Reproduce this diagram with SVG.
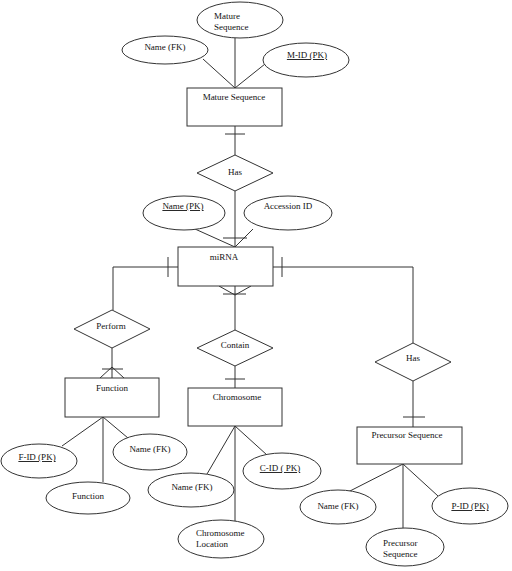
<svg xmlns="http://www.w3.org/2000/svg" width="512" height="571" viewBox="0 0 512 571">
<style>
.s{fill:#fff;stroke:#333;stroke-width:1}
.c line,.c polyline{stroke:#333;stroke-width:1;fill:none}
text{font-family:"Liberation Serif","Times New Roman",serif;font-size:9px;fill:#111}
.m{text-anchor:middle}
.u{text-decoration:underline}
</style>
<rect width="512" height="571" fill="#fff"/>
<g class="c" id="connectors">
<line x1="235" y1="38" x2="235" y2="88"/>
<line x1="203" y1="59" x2="235" y2="88"/>
<line x1="265" y1="64" x2="235" y2="88"/>
<line x1="235" y1="126" x2="235" y2="155"/>
<line x1="225" y1="134" x2="245" y2="134"/>
<line x1="235" y1="191" x2="235" y2="247"/>
<line x1="223" y1="238" x2="247" y2="238"/>
<line x1="195" y1="229" x2="235" y2="247"/>
<line x1="253" y1="229" x2="235" y2="247"/>
<polyline points="178,267 113,267 113,310"/>
<line x1="168" y1="257" x2="168" y2="277"/>
<polyline points="273,267 413,267 413,343"/>
<line x1="282" y1="257" x2="282" y2="277"/>
<line x1="112" y1="348" x2="112" y2="378"/>
<line x1="102" y1="369" x2="123" y2="369"/>
<line x1="112" y1="367" x2="100" y2="378"/>
<line x1="112" y1="367" x2="124" y2="378"/>
<line x1="235" y1="286" x2="235" y2="330"/>
<line x1="235" y1="295" x2="219" y2="286"/>
<line x1="235" y1="295" x2="251" y2="286"/>
<line x1="223" y1="294" x2="246" y2="294"/>
<line x1="235" y1="366" x2="235" y2="388"/>
<line x1="225" y1="379" x2="245" y2="379"/>
<line x1="413" y1="381" x2="413" y2="427"/>
<line x1="403" y1="417" x2="425" y2="417"/>
<line x1="103" y1="417" x2="103" y2="482"/>
<line x1="103" y1="417" x2="62" y2="446"/>
<line x1="103" y1="417" x2="128" y2="438"/>
<line x1="235" y1="426" x2="235" y2="521"/>
<line x1="235" y1="426" x2="207" y2="474"/>
<line x1="235" y1="426" x2="267" y2="455"/>
<line x1="403" y1="464" x2="403" y2="528"/>
<line x1="403" y1="464" x2="348" y2="492"/>
<line x1="403" y1="464" x2="438" y2="496"/>
</g>
<g id="attr-mature-seq"><ellipse class="s" cx="240" cy="20" rx="43" ry="18"/><text x="214" y="19">Mature</text><text x="214" y="30">Sequence</text></g>
<g id="attr-name-fk-1"><ellipse class="s" cx="165" cy="50" rx="43" ry="14"/><text class="m" x="165" y="50">Name (FK)</text></g>
<g id="attr-mid"><ellipse class="s" cx="306" cy="60" rx="43" ry="17"/><text class="m u" x="307" y="58">M-ID  (PK)</text></g>
<g id="mature-sequence"><rect class="s" x="187" y="88" width="95" height="38"/><text class="m" x="234" y="100">Mature Sequence</text></g>
<g id="has-1"><polygon class="s" points="235,155 273,173 235,191 197,173"/><text class="m" x="235" y="175">Has</text></g>
<g id="attr-name-pk"><ellipse class="s" cx="184" cy="213" rx="41" ry="17"/><text class="m u" x="183" y="209">Name (PK)</text></g>
<g id="attr-accession"><ellipse class="s" cx="288" cy="213" rx="44" ry="17"/><text class="m" x="288" y="209">Accession ID</text></g>
<g id="mirna"><rect class="s" x="178" y="247" width="95" height="39"/><text class="m" x="224" y="260">miRNA</text></g>
<g id="perform"><polygon class="s" points="112,310 150,329 112,348 74,329"/><text class="m" x="111" y="329">Perform</text></g>
<g id="contain"><polygon class="s" points="235,330 273,348 235,366 197,348"/><text class="m" x="235" y="348">Contain</text></g>
<g id="has-2"><polygon class="s" points="413,343 451,362 413,381 375,362"/><text class="m" x="413" y="361">Has</text></g>
<g id="function"><rect class="s" x="65" y="378" width="94" height="39"/><text class="m" x="112" y="391">Function</text></g>
<g id="chromosome"><rect class="s" x="188" y="388" width="94" height="38"/><text class="m" x="237" y="400">Chromosome</text></g>
<g id="precursor-sequence"><rect class="s" x="357" y="427" width="105" height="37"/><text class="m" x="407" y="438">Precursor Sequence</text></g>
<g id="attr-fid"><ellipse class="s" cx="39" cy="461" rx="38" ry="17"/><text class="m u" x="37" y="460">F-ID (PK)</text></g>
<g id="attr-name-fk-2"><ellipse class="s" cx="150" cy="452" rx="37" ry="18"/><text class="m" x="150" y="452">Name (FK)</text></g>
<g id="attr-function"><ellipse class="s" cx="88" cy="498" rx="42" ry="16"/><text class="m" x="88" y="499">Function</text></g>
<g id="attr-name-fk-3"><ellipse class="s" cx="191" cy="490" rx="43" ry="17"/><text class="m" x="192" y="490">Name (FK)</text></g>
<g id="attr-cid"><ellipse class="s" cx="282" cy="471" rx="39" ry="18"/><text class="m u" x="280" y="471">C-ID ( PK)</text></g>
<g id="attr-chrom-location"><ellipse class="s" cx="221" cy="539" rx="43" ry="19"/><text x="196" y="536">Chromosome</text><text x="196" y="547">Location</text></g>
<g id="attr-name-fk-4"><ellipse class="s" cx="338" cy="507" rx="38" ry="17"/><text class="m" x="338" y="509">Name (FK)</text></g>
<g id="attr-pid"><ellipse class="s" cx="470" cy="506" rx="38" ry="18"/><text class="m u" x="470" y="509">P-ID (PK)</text></g>
<g id="attr-precursor-seq"><ellipse class="s" cx="405" cy="547" rx="39" ry="19"/><text x="383" y="546">Precursor</text><text x="383" y="557">Sequence</text></g>
</svg>
